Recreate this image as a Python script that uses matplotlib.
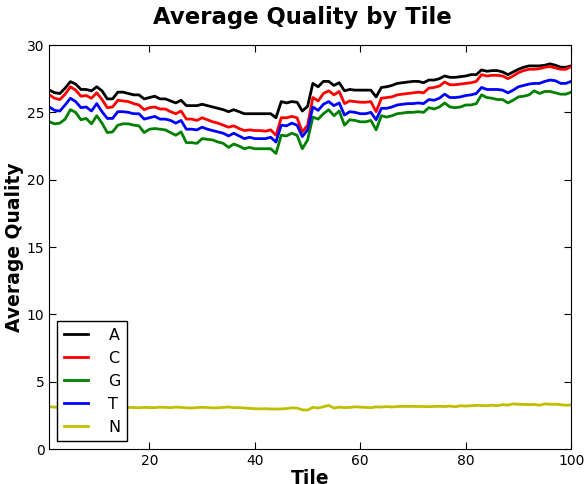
import numpy as np
import matplotlib
matplotlib.use('Agg')
import matplotlib.pyplot as plt

# tiles 1..100, average quality per base
tiles = list(range(1, 101))

qual_a = [26.66, 26.46, 26.40, 26.80, 27.28, 27.10, 26.70, 26.70, 26.60, 26.90,
          26.60, 26.00, 26.00, 26.50, 26.50, 26.40, 26.30, 26.30, 26.00, 26.10,
          26.20, 26.00, 26.00, 25.85, 25.70, 25.90, 25.50, 25.50, 25.50, 25.60,
          25.50, 25.40, 25.30, 25.20, 25.05, 25.20, 25.05, 24.90, 24.90, 24.90,
          24.90, 24.90, 24.90, 24.60, 25.80, 25.70, 25.80, 25.75, 25.10, 25.45,
          27.15, 26.90, 27.30, 27.30, 27.00, 27.20, 26.60, 26.70, 26.65, 26.65,
          26.65, 26.65, 26.15, 26.85, 26.90, 27.00, 27.15, 27.20, 27.25, 27.30,
          27.30, 27.20, 27.40, 27.40, 27.50, 27.70, 27.60, 27.60, 27.65, 27.70,
          27.80, 27.80, 28.15, 28.05, 28.10, 28.10, 28.00, 27.80, 28.00, 28.20,
          28.35, 28.45, 28.45, 28.45, 28.50, 28.60, 28.50, 28.35, 28.35, 28.45]

qual_c = [26.30, 26.05, 25.95, 26.35, 26.90, 26.65, 26.20, 26.25, 26.05, 26.45,
          25.95, 25.35, 25.40, 25.90, 25.85, 25.80, 25.65, 25.55, 25.20, 25.35,
          25.40, 25.25, 25.25, 25.05, 24.90, 25.10, 24.50, 24.50, 24.40, 24.60,
          24.45, 24.30, 24.20, 24.05, 23.90, 24.00, 23.80, 23.65, 23.70, 23.65,
          23.65, 23.60, 23.70, 23.30, 24.60, 24.60, 24.70, 24.60, 23.55, 24.05,
          26.10, 25.85, 26.40, 26.60, 26.30, 26.55, 25.65, 25.85, 25.80, 25.75,
          25.75, 25.80, 25.05, 26.05, 26.10, 26.15, 26.30, 26.35, 26.40, 26.45,
          26.50, 26.45, 26.80, 26.85, 26.95, 27.25, 27.05, 27.05, 27.10, 27.15,
          27.20, 27.30, 27.80, 27.70, 27.75, 27.75, 27.70, 27.50, 27.70, 27.95,
          28.10, 28.20, 28.20, 28.25, 28.35, 28.40, 28.30, 28.20, 28.20, 28.40]

qual_g = [24.30, 24.15, 24.20, 24.50, 25.20, 25.00, 24.45, 24.55, 24.15, 24.75,
          24.20, 23.50, 23.55, 24.05, 24.15, 24.15, 24.05, 24.00, 23.50, 23.75,
          23.80, 23.75, 23.70, 23.50, 23.30, 23.55, 22.75, 22.75, 22.70, 23.05,
          23.00, 22.95, 22.80, 22.70, 22.40, 22.65, 22.50, 22.30, 22.40, 22.30,
          22.30, 22.30, 22.30, 21.95, 23.30, 23.25, 23.45, 23.30, 22.30, 22.95,
          24.65, 24.50, 24.90, 25.20, 24.75, 25.10, 24.05, 24.45, 24.40, 24.30,
          24.30, 24.40, 23.70, 24.75, 24.65, 24.75, 24.90, 24.95, 25.00, 25.00,
          25.05, 25.00, 25.35, 25.25, 25.40, 25.70, 25.40, 25.35, 25.40, 25.55,
          25.55, 25.65, 26.30, 26.10, 26.05, 25.95, 25.95, 25.70, 25.90, 26.15,
          26.20, 26.30, 26.60, 26.40, 26.55, 26.55, 26.45, 26.35, 26.35, 26.50]

qual_t = [25.40, 25.15, 25.10, 25.55, 26.05, 25.80, 25.35, 25.40, 25.10, 25.65,
          25.05, 24.55, 24.55, 25.05, 25.05, 25.00, 24.90, 24.90, 24.50, 24.60,
          24.70, 24.50, 24.50, 24.40, 24.20, 24.40, 23.75, 23.75, 23.70, 23.90,
          23.75, 23.65, 23.55, 23.45, 23.25, 23.45, 23.25, 23.05, 23.15, 23.05,
          23.05, 23.05, 23.15, 22.80, 24.05, 24.00, 24.20, 24.05, 23.20, 23.70,
          25.40, 25.15, 25.60, 25.80, 25.50, 25.70, 24.80, 25.05, 25.00, 24.90,
          24.90, 25.00, 24.45, 25.30, 25.30, 25.40, 25.55, 25.60, 25.65, 25.65,
          25.70, 25.65, 25.95, 25.90, 26.05, 26.35, 26.10, 26.10, 26.15, 26.25,
          26.30, 26.40, 26.85, 26.70, 26.70, 26.70, 26.65, 26.45, 26.65, 26.90,
          27.00, 27.10, 27.15, 27.15, 27.30, 27.40, 27.35, 27.15, 27.15, 27.30]

qual_n = [3.15, 3.12, 3.10, 3.12, 3.08, 3.10, 3.09, 3.11, 3.10, 3.08,
          3.10, 3.07, 3.09, 3.10, 3.08, 3.10, 3.09, 3.07, 3.10, 3.09,
          3.08, 3.12, 3.10, 3.08, 3.12, 3.10, 3.07, 3.05, 3.08, 3.11,
          3.09, 3.06, 3.07, 3.10, 3.13, 3.08, 3.08, 3.06, 3.03, 3.00,
          2.99, 3.00, 2.98, 2.98, 2.99, 3.01, 3.06, 3.05, 2.92, 2.90,
          3.10, 3.05, 3.15, 3.25, 3.05, 3.12, 3.08, 3.10, 3.14, 3.12,
          3.10, 3.08, 3.14, 3.12, 3.16, 3.13, 3.16, 3.18, 3.17, 3.18,
          3.16, 3.17, 3.15, 3.17, 3.18, 3.16, 3.20, 3.15, 3.22, 3.20,
          3.22, 3.25, 3.24, 3.22, 3.26, 3.23, 3.30, 3.27, 3.36, 3.33,
          3.32, 3.30, 3.32, 3.26, 3.36, 3.33, 3.34, 3.30, 3.26, 3.28]

bases = ['A', 'C', 'G', 'T', 'N']
colors = ['k', 'r', 'g', 'b', (0.75, 0.75, 0)]
series = [qual_a, qual_c, qual_g, qual_t, qual_n]

fig = plt.figure(figsize=(5.87, 4.84), dpi=100)
ax = fig.add_axes([0.084, 0.072, 0.889, 0.835])

for name, col, vals in zip(bases, colors, series):
    ax.plot(tiles, vals, color=col, linewidth=2, label=name)

ax.set_xlim(1, 100)
ax.set_ylim(0, 30)
ax.set_xticks([20, 40, 60, 80, 100])
ax.set_yticks([0, 5, 10, 15, 20, 25, 30])
ax.tick_params(direction='in', top=True, right=True, labelsize=10, length=5)

ax.set_title('Average Quality by Tile', fontsize=16.4, fontweight='bold',
             pad=15, x=0.485)
ax.set_xlabel('Tile', fontsize=13.5, fontweight='bold', labelpad=1)
ax.set_ylabel('Average Quality', fontsize=13.5, fontweight='bold', labelpad=2)

leg = ax.legend(loc='lower left', fontsize=11.5, handlelength=1.5, fancybox=False,
                framealpha=1, borderaxespad=0.5, handletextpad=1.3)
leg.get_frame().set_edgecolor('black')

fig.savefig('out.png', dpi=100)
